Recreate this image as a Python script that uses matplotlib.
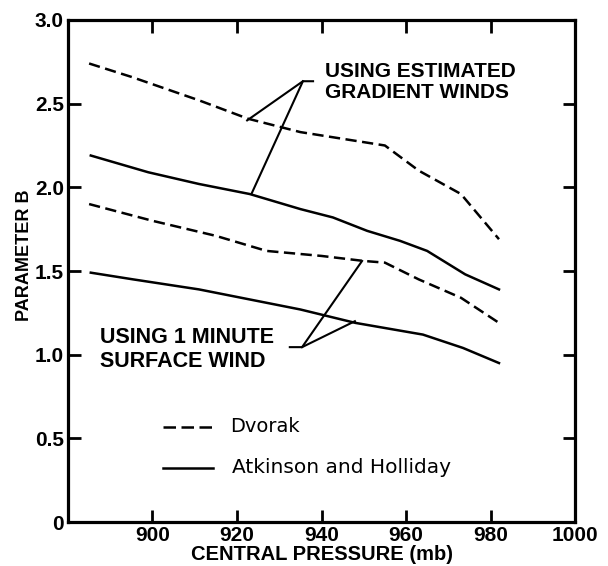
import matplotlib
matplotlib.use("Agg")
import matplotlib.pyplot as plt

# central pressure (mb) and parameter B
dvorak_grad_p = [885, 895, 911, 922.6, 935, 945, 955, 963, 973, 982]
dvorak_grad_b = [2.74, 2.66, 2.52, 2.41, 2.33, 2.29, 2.25, 2.10, 1.96, 1.69]

ah_grad_p = [885.4, 899, 911, 923, 935, 942.7, 950.8, 958.6, 965, 974, 982]
ah_grad_b = [2.19, 2.09, 2.02, 1.96, 1.87, 1.82, 1.74, 1.68, 1.62, 1.48, 1.39]

dvorak_1min_p = [885, 900, 915, 927, 940, 950, 955, 963, 973, 982]
dvorak_1min_b = [1.90, 1.80, 1.71, 1.62, 1.59, 1.56, 1.55, 1.45, 1.34, 1.19]

ah_1min_p = [885.4, 895.4, 911, 935, 948, 964, 973.5, 982]
ah_1min_b = [1.49, 1.45, 1.39, 1.27, 1.19, 1.12, 1.04, 0.95]

xticks = [900, 920, 940, 960, 980, 1000]
yticks = [0, 0.5, 1.0, 1.5, 2.0, 2.5, 3.0]
ytick_labels = ["0", "0.5", "1.0", "1.5", "2.0", "2.5", "3.0"]

plt.rcParams["font.family"] = ["Liberation Sans", "DejaVu Sans"]

fig = plt.figure(figsize=(6.08, 5.66), dpi=100)
ax = fig.add_axes([0.1118, 0.0777, 0.834, 0.887])

dash = (0, (4.5, 2.2))
lw = 1.8
ax.plot(dvorak_grad_p, dvorak_grad_b, color="black", lw=lw, linestyle=dash)
ax.plot(ah_grad_p, ah_grad_b, color="black", lw=lw)
ax.plot(dvorak_1min_p, dvorak_1min_b, color="black", lw=lw, linestyle=dash)
ax.plot(ah_1min_p, ah_1min_b, color="black", lw=lw)

ax.set_xlim(880, 1000)
ax.set_ylim(0, 3.0)
ax.set_xticks(xticks)
ax.set_xticklabels([str(t) for t in xticks])
ax.set_yticks(yticks)
ax.set_yticklabels(ytick_labels)
ax.tick_params(direction="in", length=9, width=2, top=True, right=True,
               labelsize=15, pad=3)
for lab in ax.get_xticklabels() + ax.get_yticklabels():
    lab.set_fontweight("bold")
for s in ax.spines.values():
    s.set_linewidth(2.3)

ax.set_xlabel("CENTRAL PRESSURE (mb)", fontsize=14.5, fontweight="bold", labelpad=0)
ax.set_ylabel("PARAMETER B", fontsize=13, fontweight="bold",
              family=["Liberation Sans Narrow", "Liberation Sans"])
ax.yaxis.set_label_coords(-0.068, 0.532)

# annotations
ax.text(940.8, 2.63, "USING ESTIMATED\nGRADIENT WINDS", fontsize=15,
        fontweight="bold", va="center", ha="left", linespacing=1.15)
ax.plot([938.0, 935.6, 922.4], [2.634, 2.634, 2.40], color="black", lw=1.5)
ax.plot([935.6, 923.5], [2.634, 1.965], color="black", lw=1.5)

ax.text(887.6, 1.03, "USING 1 MINUTE\nSURFACE WIND", fontsize=15.5,
        fontweight="bold", va="center", ha="left", linespacing=1.15)
ax.plot([932.5, 935.4, 949.6], [1.045, 1.045, 1.56], color="black", lw=1.5)
ax.plot([935.4, 947.9], [1.045, 1.20], color="black", lw=1.5)

# legend drawn by hand
ax.plot([902.5, 914.3], [0.568, 0.568], color="black", lw=lw, linestyle=(0, (5, 2.2)))
ax.text(918.3, 0.568, "Dvorak", fontsize=14, va="center", ha="left",
        family="DejaVu Sans")
ax.plot([902.5, 914.3], [0.323, 0.323], color="black", lw=lw)
ax.text(918.8, 0.323, "Atkinson and Holliday", fontsize=14.5, va="center", ha="left",
        family="DejaVu Sans")

fig.savefig("out.png", dpi=100)
